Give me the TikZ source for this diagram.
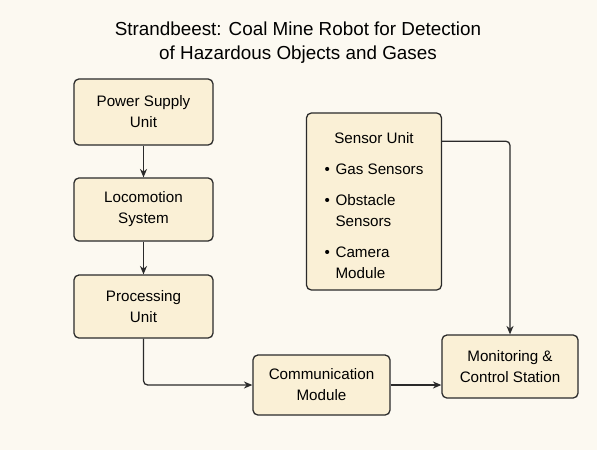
\documentclass[tikz,border=0pt]{standalone}
\usepackage{fontspec}
\setmainfont{Liberation Sans}
\usetikzlibrary{arrows.meta}
\definecolor{fond}{HTML}{FCF9F1}
\definecolor{boite}{HTML}{FAF0D6}
\definecolor{trait}{HTML}{2A2A2A}

\begin{document}
\begin{tikzpicture}[x=0.025cm, y=-0.025cm,
  bloc/.style={draw=trait, fill=boite, line width=0.9pt, rounded corners=3.5pt,
    align=center, inner sep=0pt, font=\fontsize{10.8}{15}\selectfont},
  fleche/.style={draw=trait, line width=0.9pt, rounded corners=3pt,
    -{Stealth[length=6pt,width=5pt]}}]
\fill[fond] (0,0) rectangle (597,450); % fond
%
\node[align=center, font=\fontsize{13.4}{17}\selectfont] (titre) at (298,43)
  {Strandbeest: Coal Mine Robot for Detection\\of Hazardous Objects and Gases};
%
\node[bloc, minimum width=3.475cm, minimum height=1.65cm] (alim) at (143.5,112) {Power Supply\\Unit};
\node[bloc, minimum width=3.475cm, minimum height=1.575cm] (loco) at (143.5,209.5) {Locomotion\\System};
\node[bloc, minimum width=3.475cm, minimum height=1.575cm] (calcul) at (143.5,306.5) {Processing\\Unit};
\node[bloc, minimum width=3.425cm, minimum height=1.5cm] (comm) at (321.5,385) {Communication\\Module};
\node[bloc, minimum width=3.4cm, minimum height=1.575cm] (suivi) at (510,366.5) {Monitoring \&\\Control Station};
\node[bloc, minimum width=3.375cm, minimum height=4.425cm] (capteurs) at (374,201.5)
  {\begin{tabular}{@{}l@{\hspace{4pt}}l@{}}
   \multicolumn{2}{c}{\rule{0pt}{17.5pt}Sensor Unit}\\[7pt]
   \textbullet & Gas Sensors\\[7pt]
   \textbullet & Obstacle\\
               & Sensors\\[7pt]
   \textbullet & Camera\\
               & Module
   \end{tabular}}; % capteurs
%
\draw[fleche] (alim) -- (loco);
\draw[fleche] (loco) -- (calcul);
\draw[fleche] (calcul.south) |- (comm.west);
\draw[fleche] (comm.east) -- (comm.east -| suivi.west);
\draw[fleche] ([yshift=-0.72cm]capteurs.north east) -| (suivi.north); % vers la station
\end{tikzpicture}
\end{document}
